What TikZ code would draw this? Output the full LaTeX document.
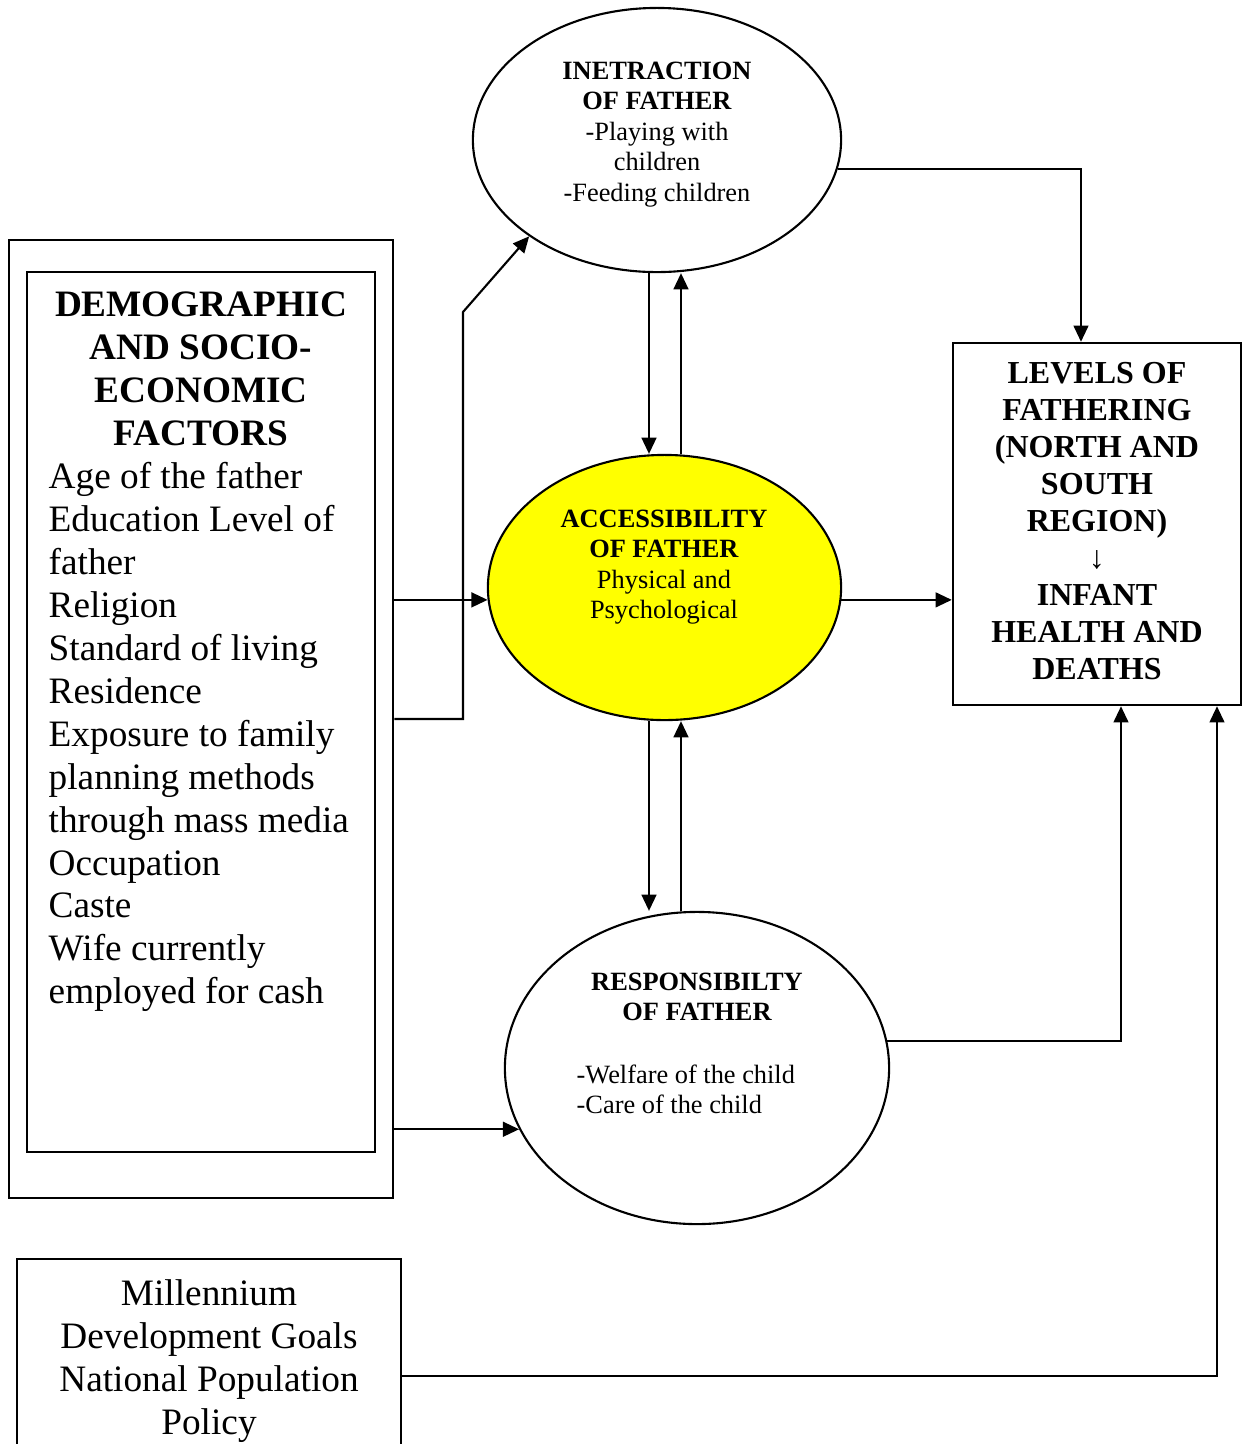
\documentclass[tikz,border=0pt]{standalone}
\usepackage{fontspec}
\setmainfont{Liberation Serif}
\usetikzlibrary{shapes,arrows.meta,positioning}
\definecolor{accYellow}{RGB}{255,255,0}

\begin{document}
\begin{tikzpicture}[x=0.01cm, y=-0.01cm, >={Triangle[length=4.6pt,width=4.2pt]}]
			\tikzstyle{Box}		= [draw, rectangle, line width=0.65pt, inner sep=0pt]
			\tikzstyle{Oval}	= [draw, ellipse, line width=0.6pt, inner sep=0pt]
			\tikzstyle{Big}		= [inner sep=0pt, font=\fontsize{10.6}{12.2}\selectfont]
			\tikzstyle{BigB}	= [inner sep=0pt, font=\fontsize{10.6}{12.2}\selectfont\bfseries]
			\tikzstyle{Small}	= [inner sep=0pt, font=\fontsize{7.5}{8.7}\selectfont]
			\tikzstyle{SmallB}	= [inner sep=0pt, font=\fontsize{7.5}{8.7}\selectfont\bfseries]
			\tikzstyle{Mid}		= [inner sep=0pt, font=\fontsize{9.1}{10.5}\selectfont\bfseries]
			\tikzstyle{Link}	= [->, line width=0.6pt]

			\useasboundingbox (0,0) rectangle (1243,1444);

			\node (outer) at (201,719) [Box, minimum width=3.84cm, minimum height=9.58cm] {};
			\node (inner) at (201,712) [Box, minimum width=3.48cm, minimum height=8.80cm] {};
			\node (inter) at (657,140) [Oval, minimum width=3.68cm, minimum height=2.64cm] {};
			\node (acc) at (664.5,587.5) [Oval, fill=accYellow, minimum width=3.53cm, minimum height=2.65cm] {};
			\node (resp) at (697,1068) [Oval, minimum width=3.84cm, minimum height=3.12cm] {};
			\node (levels) at (1097,524) [Box, minimum width=2.88cm, minimum height=3.62cm] {};
			\node (mdg) at (209,1399) [Box, minimum width=3.84cm, minimum height=2.80cm] {};

			\node (demoHead) at (201,291) [BigB, anchor=north, align=center] {DEMOGRAPHIC\\AND SOCIO-\\ECONOMIC\\FACTORS};
			\node (demoBody) at (48,462) [Big, anchor=north west, align=left] {Age of the father\\Education Level of\\father\\Religion\\Standard of living\\Residence\\Exposure to family\\planning methods\\through mass media\\Occupation\\Caste\\Wife currently\\employed for cash};
			\node (interText) at (657,61) [Small, anchor=north, align=center] {\textbf{INETRACTION}\\\textbf{OF FATHER}\\-Playing with\\children\\-Feeding children};
			\node (accText) at (664,509) [Small, anchor=north, align=center] {\textbf{ACCESSIBILITY}\\\textbf{OF FATHER}\\Physical and\\Psychological};
			\node (respHead) at (697,972) [SmallB, anchor=north, align=center] {RESPONSIBILTY\\OF FATHER};
			\node (respBody) at (576,1064) [Small, anchor=north west, align=left] {-Welfare of the child\\-Care of the child};
			\node (levText) at (1097,362) [Mid, anchor=north, align=center] {LEVELS OF\\FATHERING\\(NORTH AND\\SOUTH\\REGION)\\↓\\INFANT\\HEALTH AND\\DEATHS};
			\node (mdgText) at (209,1279) [Big, anchor=north, align=center] {Millennium\\Development Goals\\National Population\\Policy};

			\coordinate (dn) at (649,0);
			\coordinate (up) at (681,0);

			\draw [Link] (inter.south -| dn) -- (acc.north -| dn);
			\draw [Link] (acc.north -| up) -- (inter.south -| up);
			\draw [Link] (acc.south -| dn) -- (resp.north -| dn);
			\draw [Link] (resp.north -| up) -- (acc.south -| up);

			\draw [Link] (outer.east |- acc.184) -- (acc.184);
			\draw [Link] (outer.east) -| (463,312) -- (inter.217);
			\draw [Link] (outer.east |- resp.199) -- (resp.199);

			\draw [Link] (acc.-4) -- (levels.west |- acc.-4);
			\draw [Link] (inter.-9) -| (levels.north -| 1081,0);
			\draw [Link] (resp.8) -| (levels.south -| 1121,0);
			\draw [Link] (mdg.east |- 0,1376) -| (levels.south -| 1217,0);
		\end{tikzpicture}
\end{document}
